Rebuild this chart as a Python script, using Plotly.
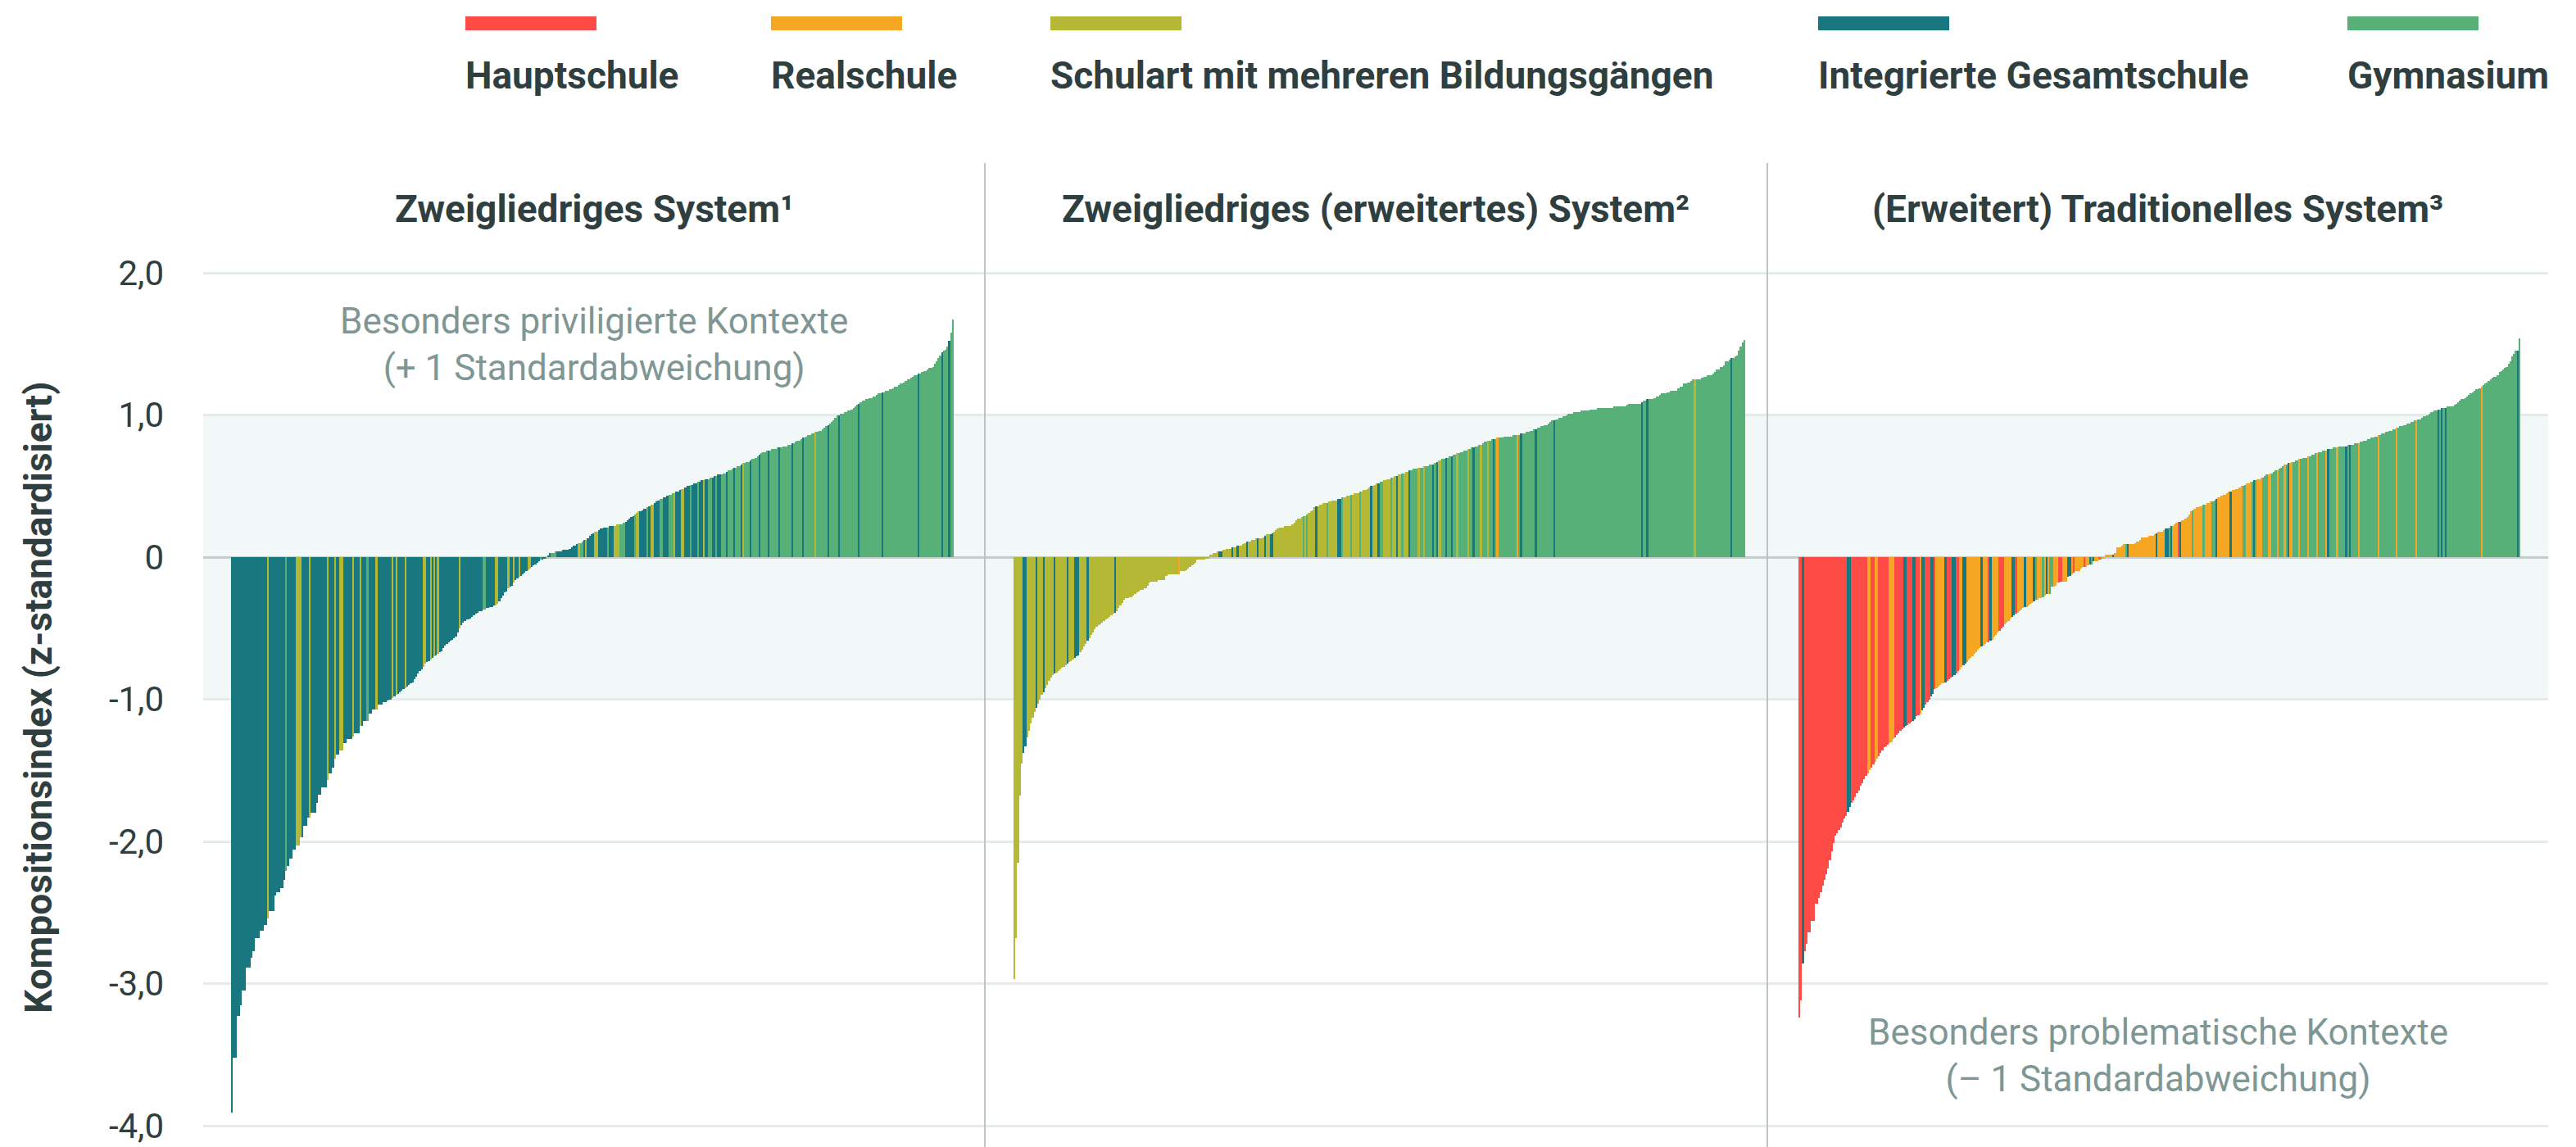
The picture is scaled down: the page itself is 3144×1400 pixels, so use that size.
import plotly.graph_objects as go

# ---------------- data ----------------
COLORS = {"H": "#FF4B45", "R": "#F5A623", "S": "#B4B834", "I": "#19777F", "G": "#56B077"}
LEGEND_CODES = ["H", "R", "S", "I", "G"]
LEGEND_LABELS = ["Hauptschule", "Realschule", "Schulart mit mehreren Bildungsgängen",
                 "Integrierte Gesamtschule", "Gymnasium"]
PANEL_TITLES = ["Zweigliedriges System¹", "Zweigliedriges (erweitertes) System²",
                "(Erweitert) Traditionelles System³"]
Y_TICKVALS = [2, 1, 0, -1, -2, -3, -4]
Y_TICKTEXT = ["2,0", "1,0", "0", "-1,0", "-2,0", "-3,0", "-4,0"]
Y_TITLE = "Kompositionsindex (z-standardisiert)"
NOTE_TOP = "Besonders priviligierte Kontexte<br>(+ 1 Standardabweichung)"
NOTE_BOTTOM = "Besonders problematische Kontexte<br>(– 1 Standardabweichung)"

P1_VALUES = [
    -3.91, -3.52, -3.52, -3.23, -3.23, -3.15, -3.05, -3.05, -2.89, -2.89, -2.89, -2.82, -2.77, -2.68, -2.68, -2.68, -2.63, -2.63, -2.59, -2.59,
    -2.54, -2.49, -2.49, -2.49, -2.38, -2.36, -2.36, -2.33, -2.33, -2.27, -2.21, -2.17, -2.12, -2.12, -2.06, -2.06, -2.03, -2.03, -1.97, -1.97,
    -1.89, -1.89, -1.83, -1.83, -1.80, -1.80, -1.80, -1.73, -1.67, -1.67, -1.62, -1.62, -1.62, -1.57, -1.52, -1.52, -1.48, -1.42, -1.39, -1.39,
    -1.36, -1.36, -1.31, -1.31, -1.28, -1.28, -1.28, -1.26, -1.24, -1.24, -1.24, -1.19, -1.19, -1.15, -1.15, -1.15, -1.10, -1.10, -1.07, -1.07,
    -1.07, -1.04, -1.04, -1.04, -1.02, -1.02, -1.01, -1.00, -1.00, -0.99, -0.98, -0.97, -0.96, -0.95, -0.94, -0.93, -0.92, -0.91, -0.90, -0.89,
    -0.88, -0.86, -0.84, -0.82, -0.80, -0.79, -0.77, -0.75, -0.74, -0.73, -0.72, -0.71, -0.70, -0.69, -0.68, -0.67, -0.66, -0.64, -0.62, -0.61,
    -0.60, -0.59, -0.58, -0.57, -0.56, -0.53, -0.50, -0.48, -0.46, -0.45, -0.44, -0.44, -0.43, -0.42, -0.41, -0.40, -0.39, -0.38, -0.38, -0.37,
    -0.37, -0.36, -0.36, -0.35, -0.35, -0.34, -0.34, -0.33, -0.31, -0.29, -0.27, -0.25, -0.24, -0.22, -0.21, -0.20, -0.18, -0.16, -0.15, -0.14,
    -0.13, -0.12, -0.11, -0.10, -0.09, -0.08, -0.07, -0.06, -0.05, -0.04, -0.03, -0.02, -0.02, -0.01, -0.01, 0.01, 0.03, 0.03, 0.03, 0.04,
    0.04, 0.04, 0.04, 0.05, 0.05, 0.05, 0.05, 0.06, 0.07, 0.08, 0.08, 0.09, 0.10, 0.10, 0.11, 0.12, 0.12, 0.13, 0.15, 0.16,
    0.17, 0.18, 0.18, 0.19, 0.20, 0.20, 0.21, 0.21, 0.21, 0.22, 0.22, 0.22, 0.22, 0.23, 0.23, 0.23, 0.23, 0.24, 0.25, 0.26,
    0.27, 0.28, 0.29, 0.30, 0.31, 0.32, 0.32, 0.33, 0.34, 0.34, 0.35, 0.36, 0.37, 0.37, 0.38, 0.39, 0.40, 0.41, 0.41, 0.42,
    0.42, 0.43, 0.44, 0.44, 0.45, 0.45, 0.46, 0.46, 0.47, 0.48, 0.48, 0.49, 0.50, 0.50, 0.51, 0.51, 0.52, 0.52, 0.53, 0.53,
    0.54, 0.54, 0.55, 0.55, 0.55, 0.56, 0.56, 0.57, 0.57, 0.58, 0.58, 0.58, 0.59, 0.59, 0.60, 0.61, 0.61, 0.62, 0.63, 0.63,
    0.64, 0.64, 0.65, 0.66, 0.66, 0.67, 0.67, 0.68, 0.69, 0.69, 0.70, 0.71, 0.72, 0.73, 0.74, 0.74, 0.75, 0.75, 0.75, 0.76,
    0.76, 0.76, 0.77, 0.77, 0.77, 0.78, 0.78, 0.78, 0.79, 0.79, 0.80, 0.80, 0.81, 0.82, 0.82, 0.83, 0.84, 0.84, 0.85, 0.86,
    0.86, 0.87, 0.87, 0.88, 0.88, 0.89, 0.89, 0.90, 0.91, 0.92, 0.93, 0.94, 0.95, 0.96, 0.98, 1.00, 1.00, 1.01, 1.01, 1.02,
    1.02, 1.03, 1.03, 1.04, 1.05, 1.06, 1.07, 1.08, 1.09, 1.10, 1.10, 1.11, 1.11, 1.12, 1.12, 1.13, 1.13, 1.14, 1.15, 1.15,
    1.16, 1.16, 1.17, 1.17, 1.18, 1.18, 1.19, 1.20, 1.20, 1.21, 1.22, 1.22, 1.23, 1.24, 1.25, 1.25, 1.26, 1.27, 1.28, 1.28,
    1.29, 1.29, 1.30, 1.31, 1.31, 1.32, 1.33, 1.33, 1.34, 1.36, 1.38, 1.40, 1.42, 1.44, 1.45, 1.46, 1.48, 1.52, 1.58, 1.67,
]
P1_CATS = ("I20 S1 I9 G1 I5 S3 I4 S1 I9 S1 I3 S1 I2 S2 I5 S1 I3 S1 I3 G1 I4 S1 I8 S1 I1 S1 I4 S1 I9 S2 I2 S1 I1 S1 I1 S1 "
           "I11 S1 I12 G2 I5 S2 I5 S1 I2 S1 I2 S1 I4 S2 I5 G1 I2 S1 I2 G3 I9 I3 S1 G2 I1 S1 I4 S2 I5 G1 I3 S3 G3 I5 G1 S2 "
           "I4 G1 I1 S2 I3 G2 I3 G3 S1 I3 S2 I3 G1 I3 G1 I2 S1 I2 G2 I2 G1 I2 G3 I1 G3 I1 G3 I1 S1 G3 I1 G4 I1 G4 I1 G5 I1 "
           "G6 I1 G5 I1 G6 S1 G6 I1 G5 I1 G10 I1 G12 I1 G19 I1 G12 I1 G3 I1 G2")

P2_VALUES = [
    -2.97, -2.68, -2.15, -1.68, -1.45, -1.38, -1.33, -1.27, -1.22, -1.17, -1.13, -1.09, -1.06, -1.03, -1.00, -0.97, -0.95, -0.92, -0.90, -0.87,
    -0.85, -0.83, -0.82, -0.81, -0.80, -0.79, -0.78, -0.77, -0.76, -0.75, -0.74, -0.73, -0.72, -0.71, -0.70, -0.69, -0.67, -0.65, -0.63, -0.61,
    -0.59, -0.57, -0.55, -0.53, -0.51, -0.49, -0.48, -0.47, -0.46, -0.45, -0.44, -0.43, -0.42, -0.41, -0.40, -0.39, -0.38, -0.36, -0.34, -0.32,
    -0.30, -0.29, -0.29, -0.28, -0.28, -0.27, -0.26, -0.25, -0.24, -0.23, -0.23, -0.22, -0.22, -0.20, -0.18, -0.17, -0.17, -0.17, -0.17, -0.16,
    -0.16, -0.16, -0.16, -0.13, -0.12, -0.12, -0.12, -0.12, -0.12, -0.12, -0.12, -0.10, -0.10, -0.10, -0.09, -0.08, -0.07, -0.06, -0.05, -0.04,
    -0.02, -0.02, -0.02, -0.02, -0.02, -0.01, -0.01, 0.02, 0.02, 0.03, 0.03, 0.04, 0.04, 0.04, 0.05, 0.05, 0.06, 0.06, 0.06, 0.07,
    0.07, 0.07, 0.08, 0.08, 0.08, 0.09, 0.10, 0.11, 0.11, 0.11, 0.12, 0.12, 0.13, 0.13, 0.13, 0.13, 0.14, 0.15, 0.16, 0.16,
    0.16, 0.17, 0.18, 0.19, 0.20, 0.21, 0.21, 0.21, 0.22, 0.22, 0.22, 0.22, 0.23, 0.24, 0.26, 0.27, 0.27, 0.28, 0.29, 0.29,
    0.30, 0.31, 0.32, 0.33, 0.35, 0.36, 0.36, 0.37, 0.37, 0.38, 0.38, 0.38, 0.39, 0.39, 0.40, 0.40, 0.40, 0.41, 0.41, 0.42,
    0.42, 0.42, 0.43, 0.43, 0.44, 0.44, 0.45, 0.45, 0.45, 0.46, 0.46, 0.47, 0.47, 0.48, 0.49, 0.50, 0.50, 0.51, 0.52, 0.52,
    0.53, 0.53, 0.54, 0.54, 0.55, 0.55, 0.56, 0.56, 0.57, 0.57, 0.58, 0.58, 0.59, 0.59, 0.60, 0.60, 0.61, 0.61, 0.62, 0.62,
    0.62, 0.63, 0.63, 0.63, 0.64, 0.64, 0.64, 0.65, 0.65, 0.65, 0.66, 0.67, 0.68, 0.68, 0.69, 0.69, 0.70, 0.70, 0.71, 0.71,
    0.72, 0.72, 0.73, 0.73, 0.74, 0.74, 0.75, 0.75, 0.76, 0.76, 0.77, 0.77, 0.78, 0.78, 0.79, 0.79, 0.80, 0.81, 0.81, 0.82,
    0.82, 0.83, 0.83, 0.83, 0.84, 0.84, 0.84, 0.84, 0.85, 0.85, 0.85, 0.85, 0.85, 0.86, 0.86, 0.86, 0.86, 0.87, 0.87, 0.87,
    0.88, 0.88, 0.89, 0.89, 0.90, 0.90, 0.91, 0.91, 0.92, 0.92, 0.93, 0.93, 0.94, 0.95, 0.96, 0.96, 0.97, 0.97, 0.98, 0.98,
    0.99, 0.99, 1.00, 1.01, 1.01, 1.01, 1.02, 1.02, 1.02, 1.02, 1.03, 1.03, 1.03, 1.03, 1.03, 1.04, 1.04, 1.04, 1.04, 1.05,
    1.05, 1.05, 1.05, 1.05, 1.05, 1.05, 1.05, 1.05, 1.06, 1.06, 1.06, 1.06, 1.06, 1.06, 1.06, 1.07, 1.08, 1.08, 1.08, 1.08,
    1.08, 1.08, 1.08, 1.09, 1.10, 1.10, 1.11, 1.11, 1.11, 1.11, 1.12, 1.13, 1.13, 1.14, 1.15, 1.15, 1.15, 1.16, 1.16, 1.17,
    1.17, 1.17, 1.17, 1.19, 1.20, 1.20, 1.22, 1.22, 1.23, 1.23, 1.24, 1.25, 1.25, 1.25, 1.25, 1.25, 1.26, 1.27, 1.27, 1.28,
    1.28, 1.28, 1.29, 1.30, 1.32, 1.32, 1.34, 1.34, 1.35, 1.38, 1.38, 1.39, 1.40, 1.40, 1.41, 1.42, 1.45, 1.48, 1.51, 1.53,
]
P2_CATS = ("S5 I2 S5 I1 S3 I1 S5 I1 S6 I1 S3 I3 S4 I1 S14 I1 S34 R1 S21 I2 S5 I1 S2 I1 S4 I1 S5 I1 S3 I1 S2 I2 "
           "S16 G1 S1 G1 S4 I1 S5 G1 S5 I2 G1 S4 G1 S4 G1 S5 I1 S3 I1 G2 S4 G1 S2 I1 S2 G1 S3 I1 G4 S1 G2 S1 G4 I1 G1 "
           "I1 S2 G2 I1 G2 I1 G2 S1 G5 S1 G2 I1 G3 S1 G3 S1 G2 I1 G1 R1 G10 R1 G1 I1 G7 I1 G9 I1 G47 I1 G2 I1 G25 S1 "
           "G19 I1 G7")

P3_VALUES = [
    -3.24, -3.12, -2.86, -2.77, -2.72, -2.64, -2.64, -2.56, -2.56, -2.44, -2.44, -2.40, -2.36, -2.31, -2.27, -2.23, -2.19, -2.13, -2.07, -2.01,
    -1.96, -1.94, -1.92, -1.90, -1.87, -1.84, -1.82, -1.79, -1.76, -1.73, -1.71, -1.69, -1.66, -1.64, -1.61, -1.59, -1.56, -1.54, -1.52, -1.50,
    -1.48, -1.46, -1.44, -1.42, -1.40, -1.38, -1.36, -1.34, -1.33, -1.32, -1.31, -1.30, -1.28, -1.27, -1.25, -1.24, -1.22, -1.21, -1.20, -1.19,
    -1.18, -1.17, -1.16, -1.15, -1.14, -1.12, -1.11, -1.10, -1.08, -1.06, -1.04, -1.02, -1.00, -0.98, -0.96, -0.93, -0.92, -0.91, -0.90, -0.89,
    -0.89, -0.88, -0.87, -0.86, -0.85, -0.84, -0.83, -0.82, -0.80, -0.79, -0.77, -0.76, -0.75, -0.74, -0.72, -0.71, -0.70, -0.68, -0.67, -0.65,
    -0.64, -0.63, -0.62, -0.61, -0.60, -0.60, -0.59, -0.58, -0.56, -0.55, -0.53, -0.52, -0.50, -0.49, -0.47, -0.46, -0.45, -0.43, -0.42, -0.41,
    -0.40, -0.39, -0.38, -0.37, -0.36, -0.35, -0.35, -0.34, -0.33, -0.32, -0.31, -0.30, -0.30, -0.29, -0.29, -0.28, -0.27, -0.26, -0.26, -0.26,
    -0.21, -0.21, -0.20, -0.18, -0.18, -0.17, -0.17, -0.17, -0.17, -0.14, -0.13, -0.12, -0.11, -0.10, -0.10, -0.10, -0.08, -0.07, -0.07, -0.07,
    -0.06, -0.05, -0.05, -0.03, -0.03, -0.03, -0.02, -0.02, -0.01, -0.01, 0.02, 0.02, 0.02, 0.02, 0.02, 0.03, 0.07, 0.07, 0.07, 0.08,
    0.09, 0.09, 0.09, 0.09, 0.09, 0.09, 0.10, 0.11, 0.11, 0.12, 0.14, 0.14, 0.14, 0.14, 0.15, 0.15, 0.15, 0.16, 0.17, 0.18,
    0.18, 0.18, 0.19, 0.20, 0.20, 0.21, 0.22, 0.22, 0.23, 0.24, 0.25, 0.25, 0.26, 0.26, 0.27, 0.28, 0.30, 0.32, 0.33, 0.34,
    0.35, 0.35, 0.36, 0.36, 0.37, 0.37, 0.38, 0.38, 0.39, 0.39, 0.40, 0.41, 0.42, 0.42, 0.43, 0.44, 0.44, 0.45, 0.46, 0.46,
    0.47, 0.47, 0.48, 0.48, 0.49, 0.50, 0.50, 0.51, 0.52, 0.52, 0.53, 0.53, 0.54, 0.54, 0.55, 0.55, 0.56, 0.56, 0.57, 0.58,
    0.58, 0.59, 0.59, 0.60, 0.61, 0.61, 0.62, 0.63, 0.64, 0.65, 0.65, 0.66, 0.66, 0.67, 0.67, 0.68, 0.68, 0.69, 0.69, 0.70,
    0.70, 0.70, 0.71, 0.71, 0.72, 0.72, 0.73, 0.73, 0.74, 0.74, 0.75, 0.75, 0.75, 0.76, 0.76, 0.76, 0.77, 0.77, 0.77, 0.78,
    0.78, 0.78, 0.78, 0.78, 0.79, 0.79, 0.79, 0.79, 0.80, 0.80, 0.80, 0.81, 0.81, 0.82, 0.82, 0.83, 0.83, 0.84, 0.84, 0.85,
    0.85, 0.86, 0.86, 0.87, 0.87, 0.88, 0.88, 0.89, 0.89, 0.90, 0.90, 0.91, 0.91, 0.92, 0.92, 0.93, 0.93, 0.94, 0.94, 0.95,
    0.95, 0.96, 0.96, 0.97, 0.97, 0.98, 0.99, 0.99, 1.00, 1.01, 1.02, 1.02, 1.03, 1.03, 1.04, 1.04, 1.05, 1.05, 1.05, 1.06,
    1.06, 1.06, 1.06, 1.07, 1.08, 1.09, 1.10, 1.11, 1.11, 1.12, 1.13, 1.14, 1.15, 1.16, 1.17, 1.18, 1.18, 1.19, 1.20, 1.21,
    1.22, 1.23, 1.24, 1.25, 1.26, 1.27, 1.27, 1.28, 1.30, 1.31, 1.32, 1.33, 1.34, 1.36, 1.38, 1.41, 1.43, 1.45, 1.45, 1.54,
]
P3_CATS = ("H2 I1 H24 I2 H9 R2 H2 R2 H6 R3 H5 I2 H3 I2 H2 R1 I2 H3 I2 H1 R5 I1 H3 I2 H2 R2 I2 R8 I1 R3 H1 I1 R4 H3 "
           "R4 I2 H1 R4 I1 R4 I1 G1 R3 G1 R1 I1 R1 G2 R3 H2 R3 I2 R1 H1 R5 H1 R2 I1 G1 I1 R2 H1 G1 R6 I1 R6 G1 I1 R15 "
           "I1 R4 I2 G1 I1 R3 H1 I1 R6 G1 R5 G1 R4 G2 I1 R7 I1 R6 G2 R3 G1 I1 G1 R3 G3 R2 G3 R1 G3 R1 G1 I1 R2 G3 R1 "
           "G4 R1 G4 R1 G4 R1 I1 G4 R1 G4 I1 G1 I1 G4 R1 G10 R1 G9 R1 G10 R1 G11 I1 G1 I1 G1 I1 G19 R1 G19 I1 G1")

PANELS = [(P1_VALUES, P1_CATS), (P2_VALUES, P2_CATS), (P3_VALUES, P3_CATS)]

# ---------------- layout constants (pixels) ----------------
W, H = 3144, 1400
ML, MR, MT, MB = 248, 34, 200, 0
PW, PH = W - ML - MR, H - MT - MB
PANEL_EDGES = [248, 1202, 2157, 3110]
BAR_SPANS = [(282, 1164), (1237, 2130), (2195, 3076)]
Y_RANGE = [-(H - MB - 680) / 173.5, (680 - MT) / 173.5]

TXT = "#2F3E3E"
NOTE = "#7F9794"
FONT = "Roboto"


def xp(px):
    return (px - ML) / PW


def yp(py):
    return (H - MB - py) / PH


def expand(runs, n):
    out = []
    for tok in runs.split():
        out += [tok[0]] * int(tok[1:])
    if len(out) < n:
        out += [out[-1]] * (n - len(out))
    return out[:n]


fig = go.Figure()
layout_axes = {}
for k, (vals, runs) in enumerate(PANELS):
    n = len(vals)
    cats = expand(runs, n)
    p0, p1 = PANEL_EDGES[k], PANEL_EDGES[k + 1]
    b0, b1 = BAR_SPANS[k]
    w = (b1 - b0) / n
    rng = [-0.5 - (b0 - p0) / w, n - 0.5 + (p1 - b1) / w]
    axname = "x" if k == 0 else f"x{k + 1}"
    fig.add_trace(go.Bar(
        x=list(range(n)), y=vals, width=1,
        marker=dict(color=[COLORS[c] for c in cats], line=dict(width=0)),
        xaxis=axname, yaxis="y", showlegend=False, hoverinfo="skip",
    ))
    key = "xaxis" if k == 0 else f"xaxis{k + 1}"
    layout_axes[key] = dict(domain=[xp(p0), xp(p1)], range=rng, visible=False,
                            anchor="y", fixedrange=True)

fig.update_layout(
    width=W, height=H,
    margin=dict(l=ML, r=MR, t=MT, b=MB, pad=0),
    paper_bgcolor="white", plot_bgcolor="rgba(0,0,0,0)",
    bargap=0, hovermode=False,
    font=dict(family=FONT, color=TXT),
    yaxis=dict(range=Y_RANGE, tickvals=Y_TICKVALS, ticktext=Y_TICKTEXT,
               showgrid=True, gridcolor="#E5EAEA", gridwidth=3,
               zeroline=True, zerolinecolor="#C3CCCB", zerolinewidth=3,
               showline=False, ticks="", ticklabelstandoff=47,
               tickfont=dict(family=FONT, size=42, color=TXT), fixedrange=True),
    **layout_axes,
)

shapes = []
# +/- 1 SD band
shapes.append(dict(type="rect", xref="paper", yref="y", x0=0, x1=1, y0=-1, y1=1,
                   fillcolor="#F2F7F7", line=dict(width=0), layer="below"))
# panel dividers
for px in PANEL_EDGES[1:3]:
    shapes.append(dict(type="line", xref="paper", yref="paper", x0=xp(px), x1=xp(px),
                       y0=yp(199), y1=0, line=dict(color="#BAC5C4", width=2)))

annotations = []
# legend
LEG_X = [568, 941, 1282, 2219, 2865]
for code, label, lx in zip(LEGEND_CODES, LEGEND_LABELS, LEG_X):
    shapes.append(dict(type="rect", xref="paper", yref="paper",
                       x0=xp(lx), x1=xp(lx + 160), y0=yp(20), y1=yp(37),
                       fillcolor=COLORS[code], line=dict(width=0)))
    annotations.append(dict(text=f"<b>{label}</b>", xref="paper", yref="paper",
                            x=xp(lx - 2), y=yp(92), xanchor="left", yanchor="middle",
                            showarrow=False, font=dict(family=FONT, size=46, color=TXT)))
# panel titles
for k, t in enumerate(PANEL_TITLES):
    cx = (PANEL_EDGES[k] + PANEL_EDGES[k + 1]) / 2
    annotations.append(dict(text=f"<b>{t}</b>", xref="paper", yref="paper",
                            x=xp(cx), y=yp(255), xanchor="center", yanchor="middle",
                            showarrow=False, font=dict(family=FONT, size=46, color=TXT)))
# y title
annotations.append(dict(text=f"<b>{Y_TITLE}</b>", xref="paper", yref="paper",
                        x=xp(47), y=yp(852), xanchor="center", yanchor="middle",
                        textangle=-90, showarrow=False,
                        font=dict(family=FONT, size=46, color=TXT)))
# notes
annotations.append(dict(text=NOTE_TOP, xref="paper", yref="paper",
                        x=xp(725), y=yp(420), xanchor="center", yanchor="middle",
                        showarrow=False, font=dict(family=FONT, size=44, color=NOTE)))
annotations.append(dict(text=NOTE_BOTTOM, xref="paper", yref="paper",
                        x=xp(2634), y=yp(1288), xanchor="center", yanchor="middle",
                        showarrow=False, font=dict(family=FONT, size=44, color=NOTE)))

fig.update_layout(shapes=shapes, annotations=annotations)
fig.write_html("out.html",
               config={"displayModeBar": False, "staticPlot": True},
               post_script="document.body.style.margin='0';document.body.style.overflow='hidden';")
